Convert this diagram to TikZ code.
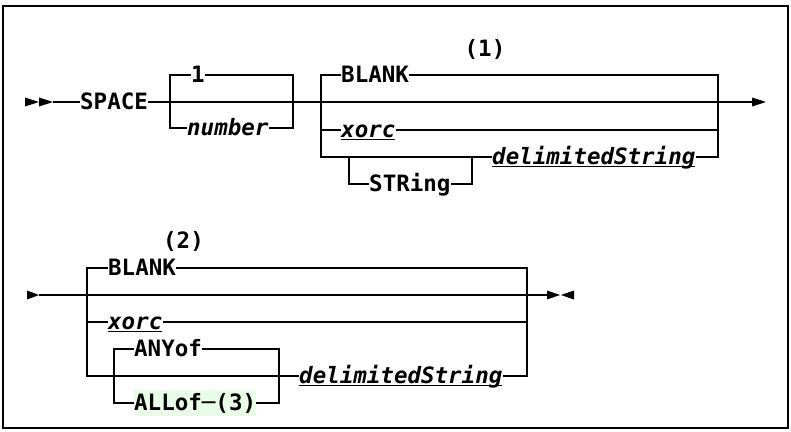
\documentclass[tikz,border=0pt]{standalone}
\usepackage{fontspec}
\setmainfont{DejaVu Sans Mono}
\definecolor{allbg}{RGB}{232,252,232}
\newcommand\ulb[1]{\setbox0\hbox{#1}\rlap{\rule[-2.8pt]{\wd0}{1.8pt}}\box0}
\begin{document}
\begin{tikzpicture}[x=1pt,y=-1pt,
  rr/.style={line width=1.9pt},
  lbl/.style={inner sep=0pt, anchor=west, text height=20.5pt, text depth=5.3pt,
    font=\fontsize{22.5}{27}\selectfont\bfseries},
  var/.style={lbl, font=\fontsize{22.5}{27}\selectfont\bfseries\itshape},
  note/.style={inner sep=0pt, font=\fontsize{22.5}{27}\selectfont\bfseries}]
\useasboundingbox (0,0) rectangle (791,431);
\draw[line width=1.2pt] (3,6) rectangle (788,428);

% ---------- row 1 ----------
\fill (25,97.5) -- (39,102) -- (25,106.5) -- cycle;
\fill (39,97.5) -- (53,102) -- (39,106.5) -- cycle;
\coordinate (s0) at (53,102);
\node[lbl] (space) at (80,102) {SPACE};
\coordinate (b1l) at (170,102);
\coordinate (b1r) at (293,102);
\node[lbl] (one) at (191,75) {1};
\node[var] (num) at (187,128) {number};
\coordinate (b2l) at (321,102);
\coordinate (b2r) at (718,102);
\coordinate (e1) at (752,102);
\node[lbl] (blank1) at (341,75) {BLANK};
\node[var] (xorc1) at (341,130) {\ulb{xorc}};
\coordinate (s1) at (349,157);
\coordinate (s2) at (472,157);
\node[lbl] (str) at (369,184) {STRing};
\node[var] (dl1) at (492,157) {\ulb{delimitedString}};
\node[note] (n1) at (485,49) {(1)};

\draw[rr] (s0) -- (space.west);
\draw[rr] (space.east) -- (b1l) -- (b1r) -- (b2l) -- (b2r) -- (e1);
\fill (e1) ++(0,-4.5) -- (766,102) -- (752,106.5) -- cycle;
\draw[rr] (b1l) |- (one.west);
\draw[rr] (one.east) -| (b1r);
\draw[rr] (b1l) |- (num.west);
\draw[rr] (num.east) -| (b1r);
\draw[rr] (b2l) |- (blank1.west);
\draw[rr] (blank1.east) -| (b2r);
\draw[rr] (b2l) |- (xorc1.west);
\draw[rr] (xorc1.east) -| (b2r);
\draw[rr] (b2l) |- (s2) -- (dl1.west);
\draw[rr] (dl1.east) -| (b2r);
\draw[rr] (s1) |- (str.west);
\draw[rr] (str.east) -| (s2);

% ---------- row 2 ----------
\fill (27,290.5) -- (39,295) -- (27,299.5) -- cycle;
\coordinate (s3) at (39,295);
\coordinate (c2l) at (87,295);
\coordinate (c2r) at (527,295);
\coordinate (e2) at (547,295);
\node[note] (n2) at (183.5,241) {(2)};
\node[lbl] (blank2) at (108,268) {BLANK};
\node[var] (xorc2) at (108,322) {\ulb{xorc}};
\coordinate (a1) at (114,376);
\coordinate (a2) at (279,376);
\node[lbl] (any) at (134,349) {ANYof};
\node[lbl, fill=allbg] (all) at (134,403) {ALLof─(3)};
\node[var] (dl2) at (299,376) {\ulb{delimitedString}};

\draw[rr] (s3) -- (c2l) -- (c2r) -- (e2);
\fill (547,290.5) -- (560,295) -- (547,299.5) -- cycle;
\fill (574,290.5) -- (561,295) -- (574,299.5) -- cycle;
\draw[rr] (c2l) |- (blank2.west);
\draw[rr] (blank2.east) -| (c2r);
\draw[rr] (c2l) |- (xorc2.west);
\draw[rr] (xorc2.east) -| (c2r);
\draw[rr] (c2l) |- (a2) -- (dl2.west);
\draw[rr] (dl2.east) -| (c2r);
\draw[rr] (a1) |- (any.west);
\draw[rr] (any.east) -| (a2);
\draw[rr] (a1) |- (all.west);
\draw[rr] (all.east) -| (a2);
\end{tikzpicture}
\end{document}
